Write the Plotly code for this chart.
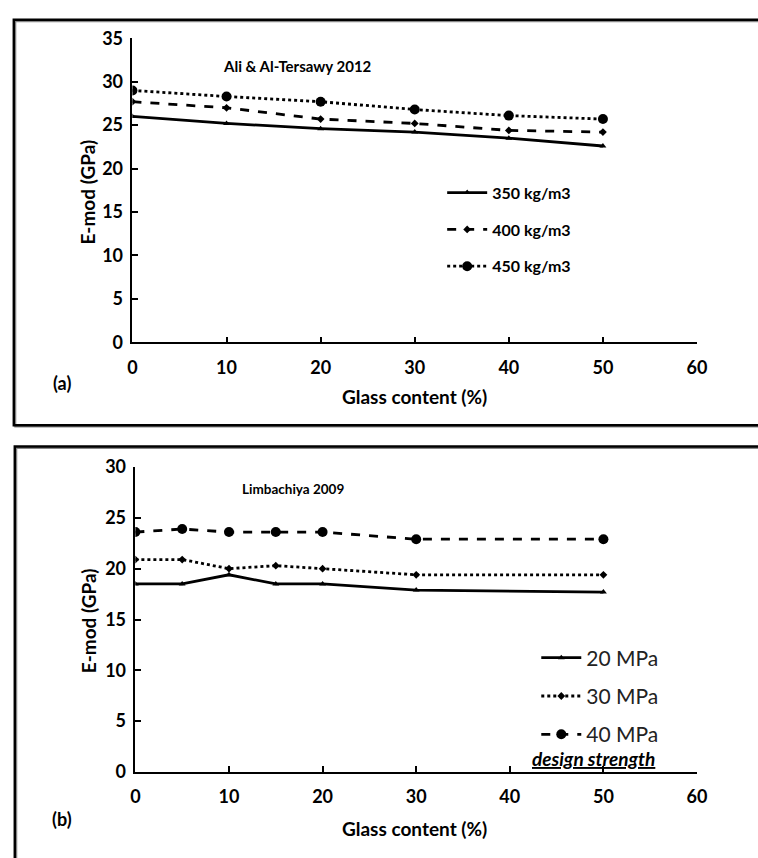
import plotly.graph_objects as go

W, H = 758, 858

# ---- Panel (a) data: Ali & Al-Tersawy 2012 ----
glass_a = [0, 10, 20, 30, 40, 50]
a_350 = [26.0, 25.2, 24.6, 24.2, 23.5, 22.6]
a_400 = [27.7, 27.0, 25.7, 25.2, 24.4, 24.2]
a_450 = [29.0, 28.3, 27.7, 26.8, 26.1, 25.7]
names_a = ["350 kg/m3", "400 kg/m3", "450 kg/m3"]

# ---- Panel (b) data: Limbachiya 2009 ----
glass_b = [0, 5, 10, 15, 20, 30, 50]
b_20 = [18.5, 18.5, 19.4, 18.5, 18.5, 17.9, 17.7]
b_30 = [20.9, 20.9, 20.0, 20.3, 20.0, 19.4, 19.4]
b_40 = [23.6, 23.9, 23.6, 23.6, 23.6, 22.9, 22.9]
names_b = ["20 MPa", "30 MPa", "40 MPa"]

x_ticks = [0, 10, 20, 30, 40, 50, 60]
ya_ticks = [0, 5, 10, 15, 20, 25, 30, 35]
yb_ticks = [0, 5, 10, 15, 20, 25, 30]

FONT = "Lato"

def px(x):
    return x / W

def py(y):
    return (H - y) / H

fig = go.Figure()

styles_a = [("solid", "triangle-up", 6), ("dash", "diamond", 6), ("dot", "circle", 10)]
for i, (ys, nm) in enumerate(zip([a_350, a_400, a_450], names_a)):
    d, sym, sz = styles_a[i]
    fig.add_trace(go.Scatter(x=glass_a, y=ys, name=nm, mode="lines+markers",
                             line=dict(color="black", width=2.8, dash=d),
                             marker=dict(symbol=sym, size=sz, color="black"),
                             xaxis="x", yaxis="y", legend="legend",
                             legendgroup="a%d" % i))

styles_b = [("solid", "triangle-up", 6), ("dot", "diamond", 6), ("dash", "circle", 10)]
for i, (ys, nm) in enumerate(zip([b_20, b_30, b_40], names_b)):
    d, sym, sz = styles_b[i]
    fig.add_trace(go.Scatter(x=glass_b, y=ys, name=nm, mode="lines+markers",
                             line=dict(color="black", width=2.8, dash=d),
                             marker=dict(symbol=sym, size=sz, color="black"),
                             xaxis="x2", yaxis="y2", legend="legend2",
                             legendgroup="b%d" % i))

axis_common = dict(showline=True, linecolor="black", linewidth=1.5, ticks="inside",
                   ticklen=6, tickcolor="black", tickwidth=1.5, showgrid=False,
                   zeroline=False, tickfont=dict(family=FONT, size=18, color="black", weight="bold"))

fig.update_layout(
    width=W, height=H, margin=dict(l=0, r=0, t=0, b=0),
    plot_bgcolor="white", paper_bgcolor="white", showlegend=True,
    xaxis=dict(domain=[px(130), px(706)], range=[0, 60], tickvals=x_ticks, anchor="y",
               ticklabelstandoff=8, **axis_common),
    yaxis=dict(domain=[py(339), py(27)], range=[0, 35], tickvals=ya_ticks, anchor="x",
               ticklabelstandoff=4, **axis_common),
    xaxis2=dict(domain=[px(133), px(706)], range=[0, 60], tickvals=x_ticks, anchor="y2",
                ticklabelstandoff=8, **axis_common),
    yaxis2=dict(domain=[py(780), py(467)], range=[0, 30], tickvals=yb_ticks, anchor="x2",
                ticklabelstandoff=4, **axis_common),
    legend=dict(x=px(446), y=py(168), xanchor="left", yanchor="top",
                bgcolor="rgba(0,0,0,0)", traceorder="grouped", tracegroupgap=13,
                font=dict(family=FONT, size=16, color="black", weight="bold"),
                itemwidth=40),
    legend2=dict(x=px(542), y=py(642), xanchor="left", yanchor="top",
                 bgcolor="rgba(0,0,0,0)", traceorder="grouped", tracegroupgap=8,
                 font=dict(family=FONT, size=21, color="#222"),
                 itemwidth=40),
)

ann = [
    dict(text="<b>Ali & Al-Tersawy 2012</b>", x=px(220), y=py(55), xanchor="left", size=15),
    dict(text="<b>E-mod (GPa)</b>", x=px(84), y=py(185), textangle=-90, size=19),
    dict(text="<b>Glass content (%)</b>", x=px(418), y=py(395), size=19),
    dict(text="<b>(a)</b>", x=px(58), y=py(381), size=18),
    dict(text="<b>Limbachiya 2009</b>", x=px(240), y=py(490), xanchor="left", size=13.5),
    dict(text="<b>E-mod (GPa)</b>", x=px(86), y=py(625), textangle=-90, size=19),
    dict(text="<b>Glass content (%)</b>", x=px(418), y=py(838), size=19),
    dict(text="<b>(b)</b>", x=px(58), y=py(828), size=18),
    dict(text="<b><i><u>design strength</u></i></b>", x=px(536), y=py(766), xanchor="left", size=19),
]
for a in ann:
    fig.add_annotation(text=a["text"], x=a["x"], y=a["y"], xref="paper", yref="paper",
                       xanchor=a.get("xanchor", "center"), yanchor="middle", showarrow=False,
                       textangle=a.get("textangle", 0),
                       font=dict(family=FONT, size=a["size"], color="black"))

# panel frames (with gray shadow)
for (l, t, b) in [(9, 8, 424), (10, 446, 870)]:
    fig.add_shape(type="rect", xref="paper", yref="paper", x0=px(l + 1.5), x1=1.05,
                  y0=py(b + 1.5), y1=py(t + 1.5), line=dict(color="#888", width=2))
    fig.add_shape(type="rect", xref="paper", yref="paper", x0=px(l), x1=1.05,
                  y0=py(b), y1=py(t), line=dict(color="black", width=2.5))

fig.write_html("out.html")
